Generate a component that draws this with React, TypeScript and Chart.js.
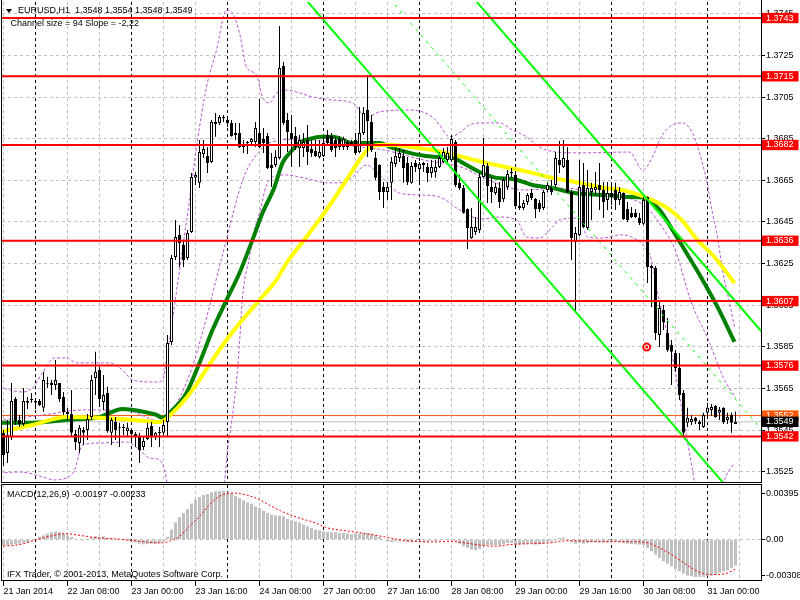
import React, { useEffect, useRef } from 'react';
import { Chart, registerables } from 'chart.js';

Chart.register(...registerables);

// ---------------- texts ----------------
const SYMBOL = 'EURUSD,H1';
const LAST_BAR = [1.3548, 1.3554, 1.3548, 1.3549];
const CHANNEL_TEXT = 'Channel size = 94 Slope = -2,22';
const MACD_TITLE = 'MACD(12,26,9)';
const MACD_LAST = -0.00197;
const SIGNAL_LAST = -0.00233;
const COPYRIGHT = 'IFX Trader, \u00a9 2001-2013, MetaQuotes Software Corp.';

// ---------------- axes ----------------
const TIME_TICKS = [0, 16, 32, 48, 64, 80, 96, 112, 128, 144, 160, 176];
const TIME_LABELS = ['21 Jan 2014', '22 Jan 08:00', '23 Jan 00:00', '23 Jan 16:00', '24 Jan 08:00', '27 Jan 00:00', '27 Jan 16:00', '28 Jan 08:00', '29 Jan 00:00', '29 Jan 16:00', '30 Jan 08:00', '31 Jan 00:00'];
const GRID_X = [0, 8, 16, 24, 32, 40, 48, 56, 64, 72, 80, 88, 96, 104, 112, 120, 128, 136, 144, 152, 160, 168, 176, 184];
const DAY_STARTS = [8, 32, 56, 80, 104, 128, 152, 176];
const PRICE_TICKS = [1.3745, 1.3725, 1.3705, 1.3685, 1.3665, 1.3645, 1.3625, 1.3605, 1.3585, 1.3565, 1.3545, 1.3525];
const LEVELS = [1.3743, 1.3715, 1.3682, 1.3636, 1.3607, 1.3576, 1.3542];
const MARK_LINE = 1.3552;
const BID = 1.3549;
const MACD_TICKS = [0.00395, 0, -0.00308];
const MACD_TICK_LABELS = ['0.00395', '0.00', '-0.00308'];

// ---------------- candles (H1, bar index 0 = 21 Jan 16:00) ----------------
const OPEN = [1.35437,1.35340,1.35417,1.35600,1.35499,1.35480,1.35581,1.35595,1.35590,1.35590,
1.35557,1.35675,1.35667,1.35667,1.35677,1.35609,1.35528,1.35528,1.35432,1.35388,
1.35451,1.35451,1.35513,1.35701,1.35739,1.35585,1.35629,1.35437,1.35489,1.35461,
1.35462,1.35446,1.35451,1.35432,1.35417,1.35369,1.35408,1.35470,1.35417,1.35437,
1.35437,1.35489,1.35874,1.36282,1.36388,1.36340,1.36277,1.36402,1.36662,1.36638,
1.36777,1.36767,1.36738,1.36921,1.36926,1.36953,1.36940,1.36926,1.36878,1.36878,
1.36820,1.36834,1.36834,1.36834,1.36878,1.36849,1.36863,1.36724,1.36724,1.36758,
1.37200,1.36940,1.36878,1.36863,1.36806,1.36806,1.36844,1.36801,1.36791,1.36762,
1.36767,1.36868,1.36863,1.36844,1.36849,1.36810,1.36834,1.36834,1.36844,1.36786,
1.36878,1.36988,1.36931,1.36758,1.36724,1.36618,1.36594,1.36638,1.36729,1.36758,
1.36767,1.36734,1.36638,1.36734,1.36705,1.36724,1.36714,1.36686,1.36690,1.36714,
1.36738,1.36748,1.36748,1.36834,1.36638,1.36613,1.36513,1.36373,1.36402,1.36412,
1.36666,1.36719,1.36618,1.36589,1.36613,1.36561,1.36618,1.36684,1.36676,1.36517,
1.36517,1.36546,1.36589,1.36561,1.36541,1.36517,1.36604,1.36618,1.36628,1.36748,
1.36714,1.36748,1.36594,1.36354,1.36388,1.36628,1.36421,1.36594,1.36604,1.36628,
1.36604,1.36556,1.36589,1.36604,1.36556,1.36589,1.36513,1.36493,1.36493,1.36469,
1.36441,1.36570,1.36229,1.36229,1.35907,1.36027,1.35917,1.35859,1.35821,1.35749,
1.35629,1.35485,1.35489,1.35509,1.35489,1.35465,1.35533,1.35547,1.35566,1.35533,
1.35557,1.35499,1.35523,1.35480];
const HIGH = [1.35451,1.35499,1.35677,1.35609,1.35523,1.35653,1.35609,1.35629,1.35600,1.35600,
1.35730,1.35706,1.35691,1.35787,1.35677,1.35633,1.35557,1.35643,1.35451,1.35475,
1.35465,1.35528,1.35715,1.35826,1.35754,1.35715,1.35658,1.35509,1.35513,1.35485,
1.35480,1.35485,1.35451,1.35441,1.35437,1.35417,1.35485,1.35489,1.35441,1.35465,
1.35499,1.35907,1.36292,1.36460,1.36436,1.36364,1.36412,1.36686,1.36690,1.36844,
1.36844,1.36810,1.36940,1.36974,1.36964,1.36964,1.36955,1.36940,1.36926,1.36926,
1.36844,1.36839,1.36854,1.36931,1.37041,1.36902,1.36878,1.36782,1.36796,1.37392,
1.37219,1.36974,1.36964,1.36907,1.36868,1.36878,1.36916,1.36844,1.36844,1.36844,
1.36859,1.36892,1.36878,1.36859,1.36863,1.36859,1.36844,1.36844,1.36878,1.37003,
1.37003,1.37156,1.36964,1.36786,1.36728,1.36642,1.36642,1.36762,1.36806,1.36806,
1.36796,1.36762,1.36738,1.36748,1.36738,1.36738,1.36734,1.36748,1.36748,1.36786,
1.36806,1.36810,1.36868,1.36844,1.36676,1.36628,1.36515,1.36517,1.36474,1.36686,
1.36854,1.36734,1.36666,1.36638,1.36642,1.36662,1.36700,1.36710,1.36695,1.36594,
1.36556,1.36589,1.36609,1.36565,1.36556,1.36604,1.36638,1.36652,1.36786,1.36839,
1.36844,1.36810,1.36604,1.36426,1.36748,1.36734,1.36700,1.36638,1.36690,1.36734,
1.36642,1.36642,1.36642,1.36638,1.36618,1.36592,1.36546,1.36522,1.36513,1.36493,
1.36570,1.36573,1.36245,1.36239,1.36075,1.36051,1.35989,1.35883,1.35835,1.35821,
1.35643,1.35557,1.35523,1.35513,1.35499,1.35533,1.35581,1.35576,1.35571,1.35561,
1.35560,1.35533,1.35533,1.35540];
const LOW = [1.35278,1.35292,1.35403,1.35475,1.35465,1.35470,1.35552,1.35581,1.35552,1.35566,
1.35537,1.35653,1.35619,1.35643,1.35585,1.35523,1.35499,1.35417,1.35355,1.35340,
1.35379,1.35403,1.35499,1.35619,1.35561,1.35547,1.35437,1.35379,1.35403,1.35369,
1.35427,1.35417,1.35403,1.35369,1.35292,1.35355,1.35403,1.35369,1.35403,1.35369,
1.35427,1.35417,1.35859,1.36268,1.36234,1.36234,1.36268,1.36397,1.36628,1.36613,
1.36758,1.36686,1.36734,1.36859,1.36916,1.36931,1.36907,1.36859,1.36844,1.36805,
1.36782,1.36777,1.36820,1.36810,1.36806,1.36782,1.36705,1.36618,1.36714,1.36750,
1.36916,1.36786,1.36714,1.36796,1.36714,1.36762,1.36724,1.36762,1.36762,1.36755,
1.36762,1.36820,1.36786,1.36762,1.36796,1.36796,1.36796,1.36815,1.36772,1.36780,
1.36868,1.36762,1.36786,1.36652,1.36556,1.36517,1.36556,1.36556,1.36714,1.36738,
1.36638,1.36628,1.36634,1.36690,1.36642,1.36690,1.36642,1.36662,1.36662,1.36710,
1.36734,1.36738,1.36738,1.36618,1.36604,1.36490,1.36320,1.36370,1.36388,1.36397,
1.36662,1.36541,1.36541,1.36580,1.36517,1.36546,1.36604,1.36662,1.36522,1.36508,
1.36508,1.36532,1.36556,1.36469,1.36498,1.36508,1.36592,1.36580,1.36618,1.36686,
1.36710,1.36589,1.36268,1.36013,1.36383,1.36421,1.36412,1.36460,1.36580,1.36508,
1.36469,1.36508,1.36532,1.36508,1.36532,1.36460,1.36450,1.36469,1.36469,1.36436,
1.36436,1.36157,1.36042,1.35883,1.35850,1.35931,1.35826,1.35667,1.35730,1.35595,
1.35417,1.35465,1.35475,1.35480,1.35451,1.35460,1.35509,1.35518,1.35509,1.35499,
1.35480,1.35480,1.35437,1.35480];
const CLOSE = [1.35331,1.35427,1.35590,1.35494,1.35480,1.35590,1.35590,1.35600,1.35581,1.35571,
1.35691,1.35670,1.35677,1.35691,1.35600,1.35537,1.35537,1.35437,1.35393,1.35461,
1.35437,1.35504,1.35691,1.35730,1.35600,1.35619,1.35446,1.35499,1.35451,1.35465,
1.35460,1.35461,1.35432,1.35417,1.35355,1.35398,1.35461,1.35417,1.35437,1.35436,
1.35475,1.35869,1.36277,1.36378,1.36349,1.36268,1.36397,1.36666,1.36676,1.36786,
1.36801,1.36734,1.36931,1.36931,1.36955,1.36950,1.36926,1.36863,1.36868,1.36810,
1.36810,1.36830,1.36849,1.36902,1.36810,1.36830,1.36710,1.36710,1.36762,1.37190,
1.36926,1.36883,1.36849,1.36810,1.36844,1.36834,1.36786,1.36782,1.36767,1.36786,
1.36830,1.36830,1.36796,1.36806,1.36810,1.36849,1.36810,1.36820,1.36782,1.36878,
1.36974,1.36935,1.36796,1.36662,1.36594,1.36594,1.36618,1.36738,1.36767,1.36782,
1.36710,1.36642,1.36719,1.36714,1.36729,1.36734,1.36686,1.36714,1.36714,1.36758,
1.36786,1.36782,1.36849,1.36628,1.36613,1.36495,1.36421,1.36426,1.36426,1.36666,
1.36724,1.36623,1.36594,1.36618,1.36546,1.36652,1.36681,1.36690,1.36527,1.36527,
1.36541,1.36580,1.36565,1.36513,1.36513,1.36594,1.36628,1.36594,1.36758,1.36724,
1.36758,1.36594,1.36373,1.36397,1.36618,1.36426,1.36613,1.36613,1.36618,1.36604,
1.36546,1.36589,1.36570,1.36556,1.36594,1.36465,1.36460,1.36474,1.36474,1.36445,
1.36556,1.36234,1.36239,1.35917,1.36037,1.35970,1.35835,1.35826,1.35749,1.35619,
1.35437,1.35509,1.35504,1.35494,1.35480,1.35523,1.35557,1.35561,1.35513,1.35547,
1.35489,1.35513,1.35485,1.35490];

// ---------------- moving averages ----------------
const MA_YELLOW_X = [-1,7.25,15.75,24,32.25,39,42.25,47.25,52.25,55.75,59.75,64,68.25,70.75,75.75,80.75,85.75,89,91.5,94,97.25,101.5,107.25,115.75,120.75,126.5,132.25,137.25,144,150.25,154.5,159,161,166,169.5,173.5,177.75,182.75];
const MA_YELLOW_Y = [1.35441,1.35475,1.35513,1.35509,1.35499,1.35489,1.35533,1.35643,1.35787,1.35883,1.35980,1.36075,1.36172,1.36253,1.36378,1.36508,1.36652,1.36748,1.36806,1.36820,1.36820,1.36810,1.36796,1.36758,1.36734,1.36710,1.36686,1.36662,1.36638,1.36613,1.36604,1.36580,1.36565,1.36517,1.36460,1.36364,1.36282,1.36157];
const MA_GREEN_X = [-1,7.25,15.75,24,29.75,34,38.25,39.75,42.25,45.75,49,52.25,55.75,59,62.25,64.75,67.75,69.75,72.25,74,76.5,79.75,82.25,87.25,90.75,94,97.25,101.5,104,109,111.5,115.75,119,123.25,127.25,132.25,137.25,142.75,150.25,156,160.25,164,167.25,170.75,174.75,178.5,182.75];
const MA_GREEN_Y = [1.35485,1.35485,1.35499,1.35513,1.35552,1.35542,1.35523,1.35509,1.35547,1.35629,1.35773,1.35931,1.36075,1.36205,1.36364,1.36493,1.36618,1.36734,1.36796,1.36830,1.36849,1.36859,1.36859,1.36830,1.36830,1.36830,1.36806,1.36782,1.36772,1.36762,1.36762,1.36724,1.36690,1.36662,1.36657,1.36628,1.36613,1.36589,1.36580,1.36570,1.36565,1.36508,1.36412,1.36301,1.36172,1.36042,1.35874];

// ---------------- Bollinger bands ----------------
const BB_UP_X = [-1,1.5,4.75,7.25,9.75,12.75,15.75,18.25,26.5,29.75,32.25,38.25,39.75,40.75,42.25,44,46.5,48.25,50.75,53.25,55.75,57.25,59,60.75,63.25,64.75,66.5,68.25,70.75,74,77.25,82.25,87.25,90.75,94,101.5,107.25,109,111.5,114,116.5,119.75,124,127.25,130.75,134,138.25,144,156.5,159.75,162.25,164,166.5,169.75,172.25,174,175.75,177.25,178.5,179.75,181.5,182.75];
const BB_UP_Y = [1.35658,1.35643,1.35633,1.35653,1.35725,1.35797,1.35797,1.35773,1.35773,1.35739,1.35691,1.35681,1.35691,1.35787,1.35980,1.36220,1.36556,1.36810,1.37099,1.37276,1.37469,1.37454,1.37358,1.37195,1.37156,1.37051,1.37022,1.37070,1.37084,1.37070,1.37051,1.37036,1.37022,1.36954,1.36979,1.36988,1.36954,1.36916,1.36859,1.36878,1.36916,1.36926,1.36926,1.36892,1.36859,1.36810,1.36786,1.36782,1.36786,1.36700,1.36762,1.36844,1.36907,1.36926,1.36878,1.36782,1.36652,1.36493,1.36378,1.36220,1.36061,1.35946];
const BB_MID_X = [0,10,20,30,40,44,47,50,55,60,63,67,75,85,95,105,115,120,130,140,150,160,165,168,172,176,180,183];
const BB_MID_Y = [1.35499,1.35523,1.35547,1.35547,1.35489,1.35605,1.35744,1.35936,1.36311,1.36662,1.36767,1.36834,1.36849,1.36820,1.36796,1.36748,1.36710,1.36662,1.36604,1.36613,1.36580,1.36532,1.36416,1.36311,1.36061,1.35893,1.35701,1.35605];
const BB_LOW_X = [-1,4,9,12.75,15.75,17.75,19.75,24,30.75,34,36.5,39,40.25,41,42.75,49,52.75,54.5,55.25,56,57,58.5,59,59.75,61.5,62.75,64,65.75,67.25,70.75,74,77.25,80.75,84,87.25,90.75,94,99,104,109,114,117.25,119.75,124,128.25,130.75,134,137.25,139,144,146,149.5,154.5,157,160.25,162,163.5,166,168,170.25,172.25,173.5,176.5,179.5,180.75,182.75];
const BB_LOW_Y = [1.35244,1.35249,1.35230,1.35211,1.35220,1.35259,1.35379,1.35388,1.35393,1.35355,1.35316,1.35307,1.35259,1.35187,1.35067,1.34922,1.34970,1.35139,1.35201,1.35355,1.35485,1.35739,1.35869,1.36090,1.36282,1.36412,1.36493,1.36628,1.36666,1.36676,1.36666,1.36652,1.36638,1.36638,1.36666,1.36724,1.36676,1.36589,1.36580,1.36570,1.36508,1.36474,1.36465,1.36474,1.36460,1.36378,1.36373,1.36426,1.36460,1.36469,1.36378,1.36373,1.36388,1.36378,1.36330,1.36268,1.36109,1.35907,1.35725,1.35475,1.35259,1.35115,1.35019,1.35163,1.35235,1.35292];

// ---------------- regression channel (end points) ----------------
const CH_LOWER_X = [70, 190];
const CH_LOWER_Y = [1.37643, 1.34973];
const CH_UPPER_X = [100, 190];
const CH_UPPER_Y = [1.37915, 1.35913];
const CH_MID_X = [90, 190];
const CH_MID_Y = [1.37668, 1.35443];

const MARKER_X = [160.8];
const MARKER_Y = [1.35849];

// ---------------- MACD ----------------
const MACD_HIST = [-0.00048,-0.00048,-0.00042,-0.00037,-0.00034,-0.00028,-0.00023,-0.00011,0.00006,0.00023,
0.00037,0.00051,0.00062,0.00068,0.00062,0.00051,0.00034,0.00023,0.00006,-0.00006,
-0.00008,0.00006,0.0002,0.00028,0.00023,0.00028,0.00017,0.00011,0.00006,0,
-0.00006,-0.00011,-0.00017,-0.00023,-0.00034,-0.0004,-0.00037,-0.00034,-0.00034,-0.00028,
-0.00017,0.00023,0.00085,0.00147,0.00189,0.00226,0.00259,0.00305,0.00338,0.00361,
0.00378,0.00386,0.004,0.00409,0.00412,0.00412,0.00406,0.00395,0.00372,0.00353,
0.00333,0.00316,0.00305,0.00282,0.00268,0.00245,0.00226,0.00212,0.00203,0.00203,
0.00197,0.00175,0.00164,0.00155,0.00147,0.00127,0.00113,0.00099,0.00085,0.00079,
0.00071,0.00065,0.00062,0.00062,0.00056,0.00056,0.00051,0.00045,0.00051,0.00051,
0.00056,0.00056,0.00051,0.00039,0.00023,0,-0.00014,-0.0002,-0.00014,-0.00017,
-0.00017,-0.00023,-0.00023,-0.0002,-0.00017,-0.00017,-0.00017,-0.00014,-0.00011,-0.00008,
-0.00006,0,0.00006,-0.00014,-0.00034,-0.00056,-0.0007,-0.00085,-0.0009,-0.00079,
-0.00056,-0.00045,-0.00045,-0.00048,-0.00045,-0.00037,-0.00028,-0.00028,-0.0004,-0.0004,
-0.00037,-0.00034,-0.00034,-0.00042,-0.0004,-0.00028,-0.00023,-0.00017,0.00006,0.00014,
0.00017,0,-0.00023,-0.00034,-0.00028,-0.00034,-0.00028,-0.00023,-0.00023,-0.00023,
-0.00025,-0.00023,-0.00023,-0.0002,-0.00023,-0.00028,-0.00034,-0.00037,-0.0004,-0.00042,
-0.00045,-0.0007,-0.00099,-0.00127,-0.00155,-0.00183,-0.00203,-0.00226,-0.00248,-0.00268,
-0.00288,-0.00305,-0.0031,-0.00316,-0.00316,-0.00316,-0.0031,-0.00305,-0.00296,-0.00282,
-0.0027,-0.0026,-0.0024,-0.0022];
const SIGNAL_X = [-1,4,7,11.5,15.5,19.5,24,28,32,36.5,39.5,41.5,44,46.5,49,51.5,54,57,60.5,64,67,70.5,74,78,80.5,86.5,90.5,94.5,99,107,111.5,115.5,119.5,123,126.5,132,136.5,139,142,149,157,160.5,164,167,169.5,172,174.5,177,180.5,183];
const SIGNAL_Y = [-0.00056,-0.00042,-0.00014,0.00028,0.00051,0.00034,0.00014,0.00006,-0.00006,-0.00023,-0.00028,-0.00014,0.00028,0.00113,0.00197,0.00296,0.00367,0.00395,0.00381,0.00338,0.00282,0.00226,0.00183,0.00141,0.00104,0.00071,0.00051,0.00028,0,-0.0002,-0.00014,-0.00028,-0.00048,-0.00056,-0.00042,-0.00034,-0.00028,-0.00014,-0.00008,-0.00017,-0.00017,-0.00023,-0.0007,-0.00127,-0.00183,-0.0024,-0.00282,-0.00296,-0.00288,-0.0025];

// ---------------- styling / frame ----------------
const FONT = '"Liberation Sans", Arial, sans-serif';
const GRID_GRAY = '#C0C0C0';
const CLEAR = 'rgba(0,0,0,0)';
const X_MIN = -0.375;
const X_MAX = 189.375;
const Y_MIN = 1.35196;
const Y_MAX = 1.37507;
const M_MIN = -0.00342;
const M_MAX = 0.00463;

const pts = (xs: number[], ys: number[]) => xs.map((x, k) => ({ x, y: ys[k] }));

const lineDs = (data: any[], color: string, width: number, order: number, extra: any = {}) => ({
  type: 'line',
  data,
  borderColor: color,
  borderWidth: width,
  pointRadius: 0,
  pointHoverRadius: 0,
  pointHitRadius: 0,
  fill: false,
  order,
  ...extra,
});

const xGridColor = (ctx: any) => (ctx.tick && DAY_STARTS.includes(ctx.tick.value) ? '#000000' : GRID_GRAY);

const sharedX = (extra: any) => ({
  type: 'linear',
  min: X_MIN,
  max: X_MAX,
  offset: false,
  afterBuildTicks: (axis: any) => {
    axis.ticks = GRID_X.map((v) => ({ value: v }));
  },
  border: { display: false, dash: [3, 3] },
  ...extra,
});

const mainDecor = {
  id: 'mainDecor',
  afterDraw(chart: any) {
    const { ctx, chartArea: a } = chart;
    ctx.save();
    ctx.setLineDash([]);
    ctx.strokeStyle = '#000';
    ctx.lineWidth = 1;
    ctx.beginPath();
    ctx.moveTo(1.5, 0);
    ctx.lineTo(1.5, a.bottom);
    ctx.moveTo(1, a.bottom - 0.5);
    ctx.lineTo(a.right + 1, a.bottom - 0.5);
    ctx.moveTo(a.right + 0.5, 0);
    ctx.lineTo(a.right + 0.5, a.bottom);
    ctx.stroke();
    ctx.fillStyle = '#000';
    ctx.beginPath();
    ctx.moveTo(6, 9);
    ctx.lineTo(12, 9);
    ctx.lineTo(9, 13);
    ctx.closePath();
    ctx.fill();
    ctx.font = `9px ${FONT}`;
    ctx.textBaseline = 'middle';
    ctx.textAlign = 'left';
    ctx.fillText(`${SYMBOL}  ${LAST_BAR.map((v) => v.toFixed(4)).join(' ')}`, 18, 11);
    ctx.fillText(CHANNEL_TEXT, 10.5, 24);
    ctx.restore();
  },
};

const macdDecor = {
  id: 'macdDecor',
  afterDraw(chart: any) {
    const { ctx, chartArea: a } = chart;
    ctx.save();
    ctx.setLineDash([]);
    ctx.strokeStyle = '#000';
    ctx.lineWidth = 1;
    ctx.beginPath();
    ctx.moveTo(1, a.top - 0.5);
    ctx.lineTo(a.right + 1, a.top - 0.5);
    ctx.moveTo(1, a.bottom + 0.5);
    ctx.lineTo(a.right + 1, a.bottom + 0.5);
    ctx.moveTo(1.5, a.top - 1);
    ctx.lineTo(1.5, a.bottom + 1);
    ctx.moveTo(a.right + 0.5, a.top - 1);
    ctx.lineTo(a.right + 0.5, a.bottom + 1);
    ctx.stroke();
    ctx.fillStyle = '#000';
    ctx.font = `9px ${FONT}`;
    ctx.textBaseline = 'middle';
    ctx.textAlign = 'left';
    ctx.fillText(`${MACD_TITLE} ${MACD_LAST.toFixed(5)} ${SIGNAL_LAST.toFixed(5)}`, 7, 10.5);
    ctx.fillText(COPYRIGHT, 7, 91);
    ctx.restore();
  },
};

function mainConfig(): any {
  const idx = OPEN.map((_, i) => i);
  const bull = idx.filter((i) => CLOSE[i] >= OPEN[i]).map((i) => ({ x: i, y: [OPEN[i], CLOSE[i]] }));
  const bear = idx.filter((i) => CLOSE[i] < OPEN[i]).map((i) => ({ x: i, y: [OPEN[i], CLOSE[i]] }));
  const wicks = idx.map((i) => ({ x: i, y: [LOW[i], HIGH[i]] }));
  const span = (v: number) => [{ x: X_MIN - 5, y: v }, { x: X_MAX + 5, y: v }];
  const barBase = { type: 'bar', grouped: false, borderSkipped: false, inflateAmount: 0, borderRadius: 0 };
  const nP = PRICE_TICKS.length;

  const datasets: any[] = [
    { type: 'line', data: pts(MARKER_X, MARKER_Y), showLine: false, pointRadius: 1.5, pointBackgroundColor: '#FF0000', pointBorderWidth: 0, order: 0 },
    { type: 'line', data: pts(MARKER_X, MARKER_Y), showLine: false, pointRadius: 3.5, pointBackgroundColor: '#FFFFFF', pointBorderColor: '#FF0000', pointBorderWidth: 2, order: 0 },
    ...LEVELS.map((v) => lineDs(span(v), '#FF0000', 2, 1)),
    lineDs(pts(CH_LOWER_X, CH_LOWER_Y), '#00FF00', 2, 2),
    lineDs(pts(CH_UPPER_X, CH_UPPER_Y), '#00FF00', 2, 2),
    lineDs(pts(CH_MID_X, CH_MID_Y), '#00FF00', 1, 2, { borderDash: [3, 5] }),
    { ...barBase, data: bull, backgroundColor: '#FFFFFF', borderColor: '#000000', borderWidth: 1, barThickness: 3, maxBarThickness: 3, minBarLength: 1, order: 3 },
    { ...barBase, data: bear, backgroundColor: '#000000', borderColor: '#000000', borderWidth: 1, barThickness: 3, maxBarThickness: 3, minBarLength: 1, order: 3 },
    { ...barBase, data: wicks, backgroundColor: '#000000', borderWidth: 0, barThickness: 1, maxBarThickness: 1, order: 4 },
    lineDs(pts(MA_YELLOW_X, MA_YELLOW_Y), '#FFFF00', 4, 5, { cubicInterpolationMode: 'monotone' }),
    lineDs(pts(MA_GREEN_X, MA_GREEN_Y), '#008000', 4, 6, { cubicInterpolationMode: 'monotone' }),
    lineDs(pts(BB_UP_X, BB_UP_Y), '#BA55D3', 1, 7, { borderDash: [3, 2], cubicInterpolationMode: 'monotone' }),
    lineDs(pts(BB_MID_X, BB_MID_Y), '#BA55D3', 1, 7, { borderDash: [3, 2], cubicInterpolationMode: 'monotone' }),
    lineDs(pts(BB_LOW_X, BB_LOW_Y), '#BA55D3', 1, 7, { borderDash: [3, 2], cubicInterpolationMode: 'monotone' }),
    lineDs(span(MARK_LINE), '#FF5500', 1, 8),
    lineDs(span(BID), '#C0C0C0', 1, 8),
  ];

  return {
    type: 'line',
    data: { datasets },
    options: {
      animation: false,
      responsive: false,
      maintainAspectRatio: false,
      devicePixelRatio: 1,
      events: [],
      layout: { padding: { left: 2, top: 2, right: 0, bottom: 1 }, autoPadding: false },
      plugins: { legend: { display: false }, tooltip: { enabled: false }, title: { display: false } },
      scales: {
        x: sharedX({
          afterFit: (axis: any) => {
            axis.height = 0;
            axis.paddingLeft = 0;
            axis.paddingRight = 0;
          },
          ticks: { display: false, autoSkip: false },
          grid: { offset: false, drawTicks: false, color: xGridColor, lineWidth: 1 },
        }),
        y: {
          type: 'linear',
          position: 'right',
          min: Y_MIN,
          max: Y_MAX,
          bounds: 'data',
          beginAtZero: false,
          afterBuildTicks: (axis: any) => {
            axis.ticks = [...PRICE_TICKS, ...LEVELS, MARK_LINE, BID].map((v) => ({ value: v }));
          },
          afterFit: (axis: any) => {
            axis.width = 39;
            axis.paddingTop = 0;
            axis.paddingBottom = 0;
          },
          ticks: {
            autoSkip: false,
            padding: 1,
            font: { family: FONT, size: 9, lineHeight: 1.15 },
            color: (ctx: any) => (ctx.index < nP ? '#000000' : '#FFFFFF'),
            callback: (v: any) => Number(v).toFixed(4),
            showLabelBackdrop: (ctx: any) => ctx.index >= nP,
            backdropColor: (ctx: any) => {
              const k = ctx.index - nP;
              if (k < 0) return CLEAR;
              if (k < LEVELS.length) return '#FF0000';
              if (k === LEVELS.length) return '#FF5500';
              return '#000000';
            },
            backdropPadding: { left: 4, right: 5, top: 0, bottom: 0 },
          },
          grid: {
            color: (ctx: any) => (ctx.index < nP ? GRID_GRAY : CLEAR),
            drawTicks: true,
            tickLength: 4,
            tickColor: (ctx: any) => (ctx.index < nP ? '#000000' : CLEAR),
          },
          border: { display: false, dash: [3, 3] },
        },
      },
    },
    plugins: [mainDecor],
  };
}

function macdConfig(): any {
  const datasets: any[] = [
    lineDs(pts(SIGNAL_X, SIGNAL_Y), '#FF0000', 1, 1, { borderDash: [2, 2], cubicInterpolationMode: 'monotone' }),
    {
      type: 'bar',
      data: MACD_HIST.map((v, i) => ({ x: i, y: v })),
      backgroundColor: '#C0C0C0',
      borderWidth: 0,
      grouped: false,
      inflateAmount: 0,
      barThickness: 3,
      maxBarThickness: 3,
      order: 2,
    },
  ];
  return {
    type: 'line',
    data: { datasets },
    options: {
      animation: false,
      responsive: false,
      maintainAspectRatio: false,
      devicePixelRatio: 1,
      events: [],
      layout: { padding: { left: 2, top: 1, right: 0, bottom: 0 }, autoPadding: false },
      plugins: { legend: { display: false }, tooltip: { enabled: false }, title: { display: false } },
      scales: {
        x: sharedX({
          afterFit: (axis: any) => {
            axis.height = 20;
            axis.paddingLeft = 0;
            axis.paddingRight = 0;
          },
          ticks: {
            autoSkip: false,
            maxRotation: 0,
            minRotation: 0,
            align: 'start',
            padding: 0,
            color: '#000000',
            font: { family: FONT, size: 9 },
            callback: (v: any) => {
              const k = TIME_TICKS.indexOf(Number(v));
              return k >= 0 ? TIME_LABELS[k] : '';
            },
          },
          grid: {
            offset: false,
            color: xGridColor,
            drawTicks: true,
            tickLength: 6,
            tickColor: (ctx: any) => (ctx.tick && TIME_TICKS.includes(ctx.tick.value) ? '#000000' : CLEAR),
          },
        }),
        y: {
          type: 'linear',
          position: 'right',
          min: M_MIN,
          max: M_MAX,
          bounds: 'data',
          beginAtZero: false,
          afterBuildTicks: (axis: any) => {
            axis.ticks = MACD_TICKS.map((v) => ({ value: v }));
          },
          afterFit: (axis: any) => {
            axis.width = 39;
            axis.paddingTop = 0;
            axis.paddingBottom = 0;
          },
          ticks: {
            autoSkip: false,
            padding: 1,
            color: '#000000',
            font: { family: FONT, size: 9, lineHeight: 1.15 },
            callback: (_v: any, i: number) => MACD_TICK_LABELS[i],
          },
          grid: {
            color: (ctx: any) => (MACD_TICKS[ctx.index] === 0 ? GRID_GRAY : CLEAR),
            drawTicks: true,
            tickLength: 4,
            tickColor: '#000000',
          },
          border: { display: false, dash: [3, 3] },
        },
      },
    },
    plugins: [macdDecor],
  };
}

export default function App() {
  const refA = useRef<HTMLCanvasElement>(null);
  const refB = useRef<HTMLCanvasElement>(null);

  useEffect(() => {
    const a = new Chart(refA.current as HTMLCanvasElement, mainConfig());
    const b = new Chart(refB.current as HTMLCanvasElement, macdConfig());
    return () => {
      a.destroy();
      b.destroy();
    };
  }, []);

  return (
    <div style={{ position: 'fixed', left: 0, top: 0, width: 800, height: 600, background: '#ffffff' }}>
      <canvas ref={refA} width={800} height={484} style={{ position: 'absolute', left: 0, top: 0, width: 800, height: 484 }} />
      <canvas ref={refB} width={800} height={116} style={{ position: 'absolute', left: 0, top: 484, width: 800, height: 116 }} />
    </div>
  );
}
